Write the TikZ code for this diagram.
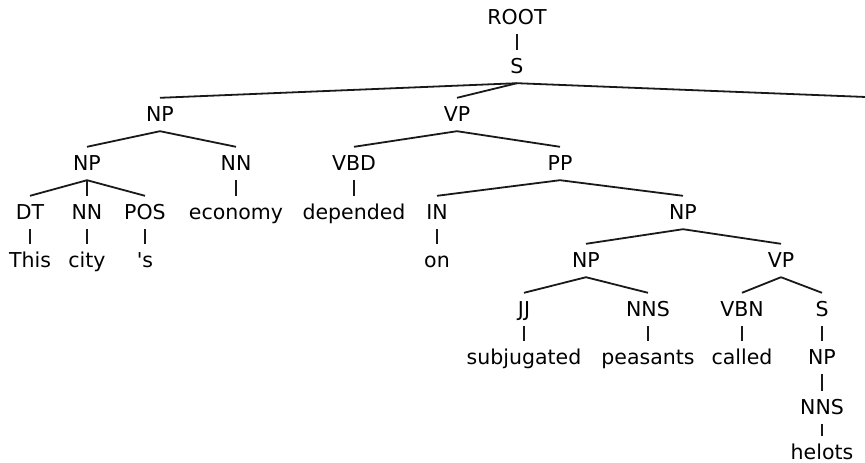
\documentclass[tikz,border=0pt]{standalone}
\usepackage{fontspec}
\newfontfamily\treefont{DejaVu Sans}
\begin{document}
\begin{tikzpicture}[x=1pt,y=-1pt,
  lbl/.style={font=\treefont\fontsize{20.5}{24}\selectfont, anchor=base,
    text height=20pt, text depth=7pt, inner ysep=3pt, inner xsep=0pt},
  lastlbl/.style={lbl, text height=23pt, text depth=0pt, inner ysep=0pt},
  edge/.style={line width=1.8pt, black!90}]
\useasboundingbox (0,0) rectangle (865,463);

% labels, placed by baseline
\node[lbl] (root) at (517,24) {ROOT};
\node[lbl] (s) at (517,73) {S};
\node[lbl] (np1) at (160,121) {NP};
\node[lbl] (vp1) at (457,121) {VP};
\coordinate (srest) at (866,97);
\node[lbl] (np2) at (87,170) {NP};
\node[lbl] (nn2) at (236,170) {NN};
\node[lbl] (vbd) at (354,170) {VBD};
\node[lbl] (pp) at (560,170) {PP};
\node[lbl] (dt) at (30,219) {DT};
\node[lbl] (nn3) at (87,219) {NN};
\node[lbl] (pos) at (145,219) {POS};
\node[lbl] (economy) at (236,219) {economy};
\node[lbl] (depended) at (354,219) {depended};
\node[lbl] (in) at (437,219) {IN};
\node[lbl] (np3) at (683,219) {NP};
\node[lbl] (this) at (30,267) {This};
\node[lbl] (city) at (87,267) {city};
\node[lbl] (poss) at (145,267) {'s};
\node[lbl] (on) at (437,267) {on};
\node[lbl] (np4) at (586,267) {NP};
\node[lbl] (vp4) at (781,267) {VP};
\node[lbl] (jj) at (524,316) {JJ};
\node[lbl] (nns5) at (648,316) {NNS};
\node[lbl] (vbn) at (742,316) {VBN};
\node[lbl] (s5) at (822,316) {S};
\node[lbl] (subjugated) at (524,364) {subjugated};
\node[lbl] (peasants) at (648,364) {peasants};
\node[lbl] (called) at (742,364) {called};
\node[lbl] (np6) at (822,364) {NP};
\node[lbl] (nns7) at (822,414) {NNS};
\node[lastlbl] (helots) at (822,459) {helots};

% branches
\draw[edge] (root.south) -- (s.north);
\draw[edge] (s.south) -- (np1.north);
\draw[edge] (s.south) -- (vp1.north);
\draw[edge] (s.south) -- (srest);
\draw[edge] (np1.south) -- (np2.north);
\draw[edge] (np1.south) -- (nn2.north);
\draw[edge] (vp1.south) -- (vbd.north);
\draw[edge] (vp1.south) -- (pp.north);
\draw[edge] (np2.south) -- (dt.north);
\draw[edge] (np2.south) -- (nn3.north);
\draw[edge] (np2.south) -- (pos.north);
\draw[edge] (nn2.south) -- (economy.north);
\draw[edge] (vbd.south) -- (depended.north);
\draw[edge] (pp.south) -- (in.north);
\draw[edge] (pp.south) -- (np3.north);
\draw[edge] (dt.south) -- (this.north);
\draw[edge] (nn3.south) -- (city.north);
\draw[edge] (pos.south) -- (poss.north);
\draw[edge] (in.south) -- (on.north);
\draw[edge] (np3.south) -- (np4.north);
\draw[edge] (np3.south) -- (vp4.north);
\draw[edge] (np4.south) -- (jj.north);
\draw[edge] (np4.south) -- (nns5.north);
\draw[edge] (vp4.south) -- (vbn.north);
\draw[edge] (vp4.south) -- (s5.north);
\draw[edge] (jj.south) -- (subjugated.north);
\draw[edge] (nns5.south) -- (peasants.north);
\draw[edge] (vbn.south) -- (called.north);
\draw[edge] (s5.south) -- (np6.north);
\draw[edge] (np6.south) -- (nns7.north);
\draw[edge] (nns7.south) -- (helots.north);
\end{tikzpicture}
\end{document}
